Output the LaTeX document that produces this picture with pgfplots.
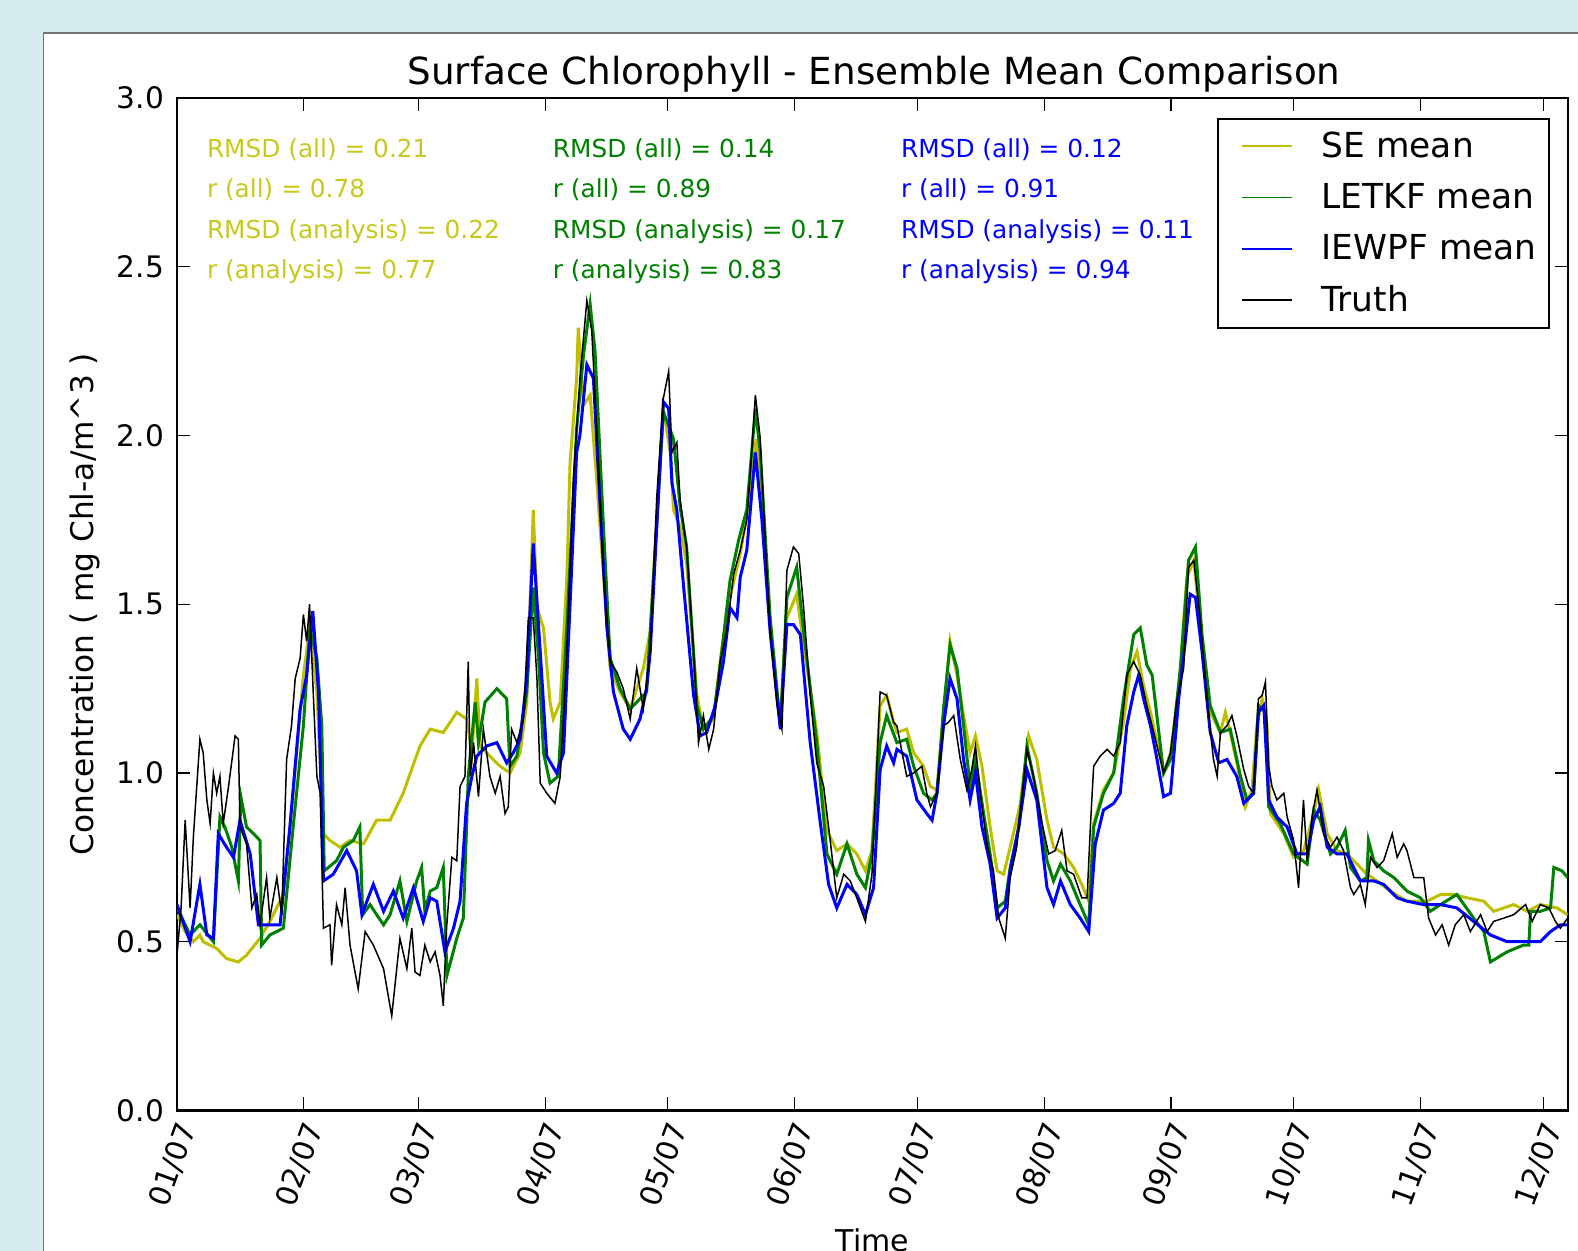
\documentclass[border=0pt]{standalone}
\usepackage{fontspec}
\setmainfont{DejaVu Sans}
\usepackage{pgfplots}
\pgfplotsset{compat=1.18}
\definecolor{bgblue}{RGB}{214,236,238}
\definecolor{seY}{rgb}{0.75,0.75,0}
\definecolor{seT}{RGB}{200,200,30}
\definecolor{lgreen}{rgb}{0,0.5,0}
\definecolor{iblue}{rgb}{0,0,1}
\begin{document}
\begin{tikzpicture}
\useasboundingbox (0,0) rectangle (789pt,625.5pt);
\clip (0,0) rectangle (789pt,625.5pt);
\fill[bgblue] (0,0) rectangle (789pt,625.5pt);
\filldraw[fill=white, draw=black!55, line width=0.8pt] (21.65pt,-5pt) rectangle (800pt,608.9pt);
\begin{axis}[
  at={(88.5pt,70.3pt)}, anchor=south west,
  scale only axis, width=695.35pt, height=506.1pt,
  xmin=0, xmax=340, ymin=0, ymax=3,
  xtick={0,31,59,90,120,151,181,212,243,273,304,334},
  xticklabels={01/07,02/07,03/07,04/07,05/07,06/07,07/07,08/07,09/07,10/07,11/07,12/07},
  ytick={0,0.5,1,1.5,2,2.5,3},
  yticklabels={0.0,0.5,1.0,1.5,2.0,2.5,3.0},
  tick align=inside,
  major tick length=6.5pt,
  every tick/.style={black, line width=0.6pt},
  axis line style={line width=1.2pt},
  tick label style={font=\fontsize{14.8}{17}\selectfont},
  xticklabel style={rotate=70, anchor=east, xshift=-1.5pt, yshift=-7.5pt},
  yticklabel style={xshift=-3pt},
  legend cell align=left,
  legend style={at={(1,1)}, anchor=north east, xshift=-8.9pt, yshift=-9.8pt,
    draw=black, line width=1.2pt, fill=white,
    font=\fontsize{17.2}{20}\selectfont, row sep=7.5pt,
    inner xsep=4pt, inner ysep=4.5pt},
  legend image code/.code={\path[draw=none, fill=none] (0pt,-1pt) rectangle (46pt,1pt); \draw[#1, line width=0.9pt] (8pt,0pt) -- (33pt,0pt);},
]
\addplot[seY, line width=1.5pt] coordinates {
(0,0.58) (2,0.53) (4,0.50) (5.6,0.52) (6.4,0.50) (9.7,0.48) (12.1,0.45) (15.0,0.44) (17.0,0.46) (20.3,0.51) (22.7,0.56) (26.0,0.64) (28.4,0.94) (30.9,1.29) (32.5,1.43) (34.2,1.24) (35.8,0.82) (37.4,0.80) (39.9,0.78) (42.3,0.80) (45.6,0.79) (48.8,0.86) (52.1,0.86) (55.3,0.94) (59.4,1.08) (61.9,1.13) (65.1,1.12) (68.4,1.18) (70.8,1.16) (72.1,1.06) (73.3,1.28) (74.1,1.08) (76.5,1.05) (79.0,1.02) (81.4,1.00) (83.9,1.06) (85.5,1.21) (87.1,1.78) (88.0,1.49) (89.6,1.43) (91.2,1.21) (92.0,1.16) (93.7,1.21) (95.3,1.58) (96.1,1.92) (97.7,2.17) (98.1,2.32) (99.4,2.09) (101.0,2.12) (102.6,1.87) (104.3,1.58) (105.9,1.31) (108.3,1.24) (110.8,1.19) (114.0,1.31) (115.7,1.42) (118.9,2.08) (120.6,1.95) (121.4,1.78) (123.0,1.73) (124.6,1.62) (127.1,1.23) (128.7,1.13) (131.2,1.16) (133.2,1.37) (135.2,1.52) (137.7,1.65) (140.1,1.82) (141.6,1.99) (143.4,1.73) (145.0,1.46) (147.5,1.14) (149.1,1.46) (151.5,1.53) (153.2,1.38) (156.4,1.12) (158.9,0.83) (161.3,0.77) (163.8,0.79) (166.2,0.76) (168.3,0.71) (169.9,0.77) (171.9,1.20) (173.5,1.23) (175.2,1.15) (176.0,1.12) (178.4,1.13) (180.1,1.06) (182.5,1.02) (184.2,0.96) (185.8,0.95) (187.4,1.17) (189.0,1.39) (190.7,1.29) (192.3,1.17) (193.9,1.06) (195.2,1.11) (196.8,1.02) (198.8,0.84) (200.5,0.71) (202.1,0.70) (203.7,0.78) (206.2,0.91) (208.2,1.11) (210.2,1.04) (212.7,0.86) (214.3,0.78) (216.8,0.76) (219.2,0.72) (221.2,0.67) (222.9,0.62) (224.1,0.85) (226.5,0.95) (229.0,1.00) (231.4,1.15) (233.1,1.31) (234.7,1.36) (236.3,1.26) (238.0,1.18) (241.2,1.00) (242.9,1.06) (244.9,1.24) (246.9,1.58) (248.6,1.63) (250.2,1.43) (252.6,1.18) (255.1,1.12) (256.3,1.18) (257.5,1.12) (259.1,1.03) (261.2,0.90) (262.8,0.95) (264.0,1.14) (265.3,1.22) (266.5,1.14) (267.3,0.88) (270.6,0.82) (273.0,0.75) (275.4,0.77) (277.5,0.86) (279.1,0.95) (281.2,0.82) (283.6,0.77) (286.0,0.76) (288.5,0.73) (290.9,0.70) (293.4,0.68) (296.6,0.65) (300.7,0.62) (305.6,0.62) (308.9,0.64) (312.1,0.64) (315.4,0.63) (319.5,0.62) (321.9,0.59) (326.8,0.61) (330.1,0.59) (333.3,0.61) (337.4,0.60) (340,0.58)
};
\addlegendentry{SE mean}
\addplot[lgreen, line width=1.5pt] coordinates {
(0,0.60) (3.2,0.52) (5.6,0.55) (8.9,0.50) (10.5,0.87) (11.7,0.84) (13.4,0.78) (15.0,0.68) (15.6,0.93) (17.0,0.84) (18.7,0.82) (20.3,0.80) (20.7,0.49) (22.7,0.52) (26.0,0.54) (28.4,0.84) (30.9,1.14) (32.5,1.43) (34.2,1.34) (35.4,1.14) (36.0,0.71) (39.0,0.74) (40.7,0.78) (43.1,0.80) (44.7,0.84) (45.4,0.58) (47.2,0.61) (48.8,0.58) (50.5,0.55) (52.1,0.58) (54.5,0.68) (56.2,0.56) (58.6,0.68) (59.8,0.72) (60.6,0.59) (61.9,0.65) (63.5,0.66) (65.1,0.72) (66.0,0.40) (68.4,0.51) (70.0,0.57) (70.8,0.84) (71.2,0.99) (72.9,1.21) (73.7,1.09) (75.3,1.21) (78.2,1.25) (80.6,1.22) (81.4,1.02) (83.1,1.05) (85.5,1.24) (87.1,1.55) (88.4,1.34) (89.6,1.06) (91.2,0.97) (93.2,0.99) (95.3,1.43) (97.7,2.02) (99.4,2.24) (101.0,2.39) (102.2,2.25) (104.3,1.72) (105.9,1.34) (108.3,1.25) (110.8,1.19) (113.2,1.22) (114.8,1.24) (115.7,1.42) (118.9,2.07) (121.4,1.99) (123.0,1.79) (124.6,1.67) (127.1,1.20) (128.7,1.13) (131.2,1.17) (133.2,1.36) (135.2,1.57) (137.3,1.69) (139.3,1.78) (141.4,2.08) (142.6,1.95) (145.0,1.46) (147.5,1.14) (149.1,1.52) (151.5,1.61) (153.2,1.42) (156.4,1.09) (158.9,0.76) (161.3,0.70) (163.8,0.79) (166.2,0.70) (168.3,0.66) (169.9,0.76) (171.9,1.09) (173.5,1.17) (176.0,1.09) (178.4,1.10) (180.1,1.02) (182.5,0.94) (184.6,0.92) (185.8,0.94) (187.4,1.19) (189.0,1.38) (190.7,1.31) (192.3,1.14) (193.9,0.96) (195.2,1.04) (197.2,0.88) (198.8,0.76) (200.5,0.60) (202.5,0.62) (203.7,0.72) (205.8,0.84) (207.8,1.08) (210.2,0.94) (212.7,0.74) (214.3,0.68) (216.0,0.73) (218.4,0.68) (220.8,0.61) (222.9,0.55) (224.1,0.84) (226.5,0.94) (229.0,1.00) (231.4,1.22) (233.9,1.41) (235.5,1.43) (237.1,1.32) (238.4,1.29) (241.2,1.00) (242.9,1.04) (245.3,1.31) (247.3,1.63) (249.0,1.67) (250.6,1.41) (252.6,1.20) (255.1,1.12) (257.5,1.13) (260.0,0.99) (261.6,0.92) (263.2,0.94) (264.4,1.20) (266.1,1.18) (266.9,0.90) (269.7,0.85) (273.0,0.76) (276.3,0.73) (277.9,0.89) (279.5,0.86) (282.0,0.76) (283.6,0.78) (285.6,0.83) (286.9,0.72) (289.3,0.68) (290.9,0.69) (291.3,0.80) (292.6,0.74) (295.0,0.71) (297.5,0.69) (300.7,0.65) (304.0,0.63) (306.4,0.59) (308.9,0.61) (312.9,0.64) (317.0,0.57) (319.5,0.53) (321.1,0.44) (325.2,0.47) (329.2,0.49) (330.5,0.49) (330.9,0.59) (333.3,0.59) (335.8,0.60) (336.6,0.72) (338.6,0.71) (340,0.69)
};
\addlegendentry{LETKF mean}
\addplot[iblue, line width=1.5pt] coordinates {
(0,0.61) (3.2,0.50) (5.6,0.67) (7.3,0.52) (8.9,0.51) (10.1,0.82) (12.1,0.78) (13.8,0.75) (15.4,0.86) (17.9,0.76) (19.9,0.55) (22.7,0.55) (25.2,0.55) (27.6,0.84) (30.1,1.19) (31.7,1.29) (33.2,1.48) (34.6,1.24) (35.8,0.68) (38.2,0.70) (41.5,0.77) (43.9,0.71) (45.2,0.58) (48.0,0.67) (50.5,0.59) (52.9,0.65) (55.3,0.57) (57.8,0.66) (60.2,0.56) (61.9,0.63) (63.5,0.62) (65.5,0.47) (67.6,0.54) (69.2,0.62) (70.8,0.91) (72.1,0.99) (73.3,1.05) (75.7,1.08) (78.2,1.09) (80.6,1.03) (82.2,1.06) (83.9,1.10) (85.5,1.28) (87.1,1.68) (88.8,1.36) (90.4,1.05) (92.8,1.00) (94.5,1.06) (96.1,1.50) (97.7,1.95) (98.5,2.00) (100.2,2.21) (101.8,2.17) (103.4,1.80) (105.1,1.43) (106.7,1.24) (109.1,1.13) (110.8,1.10) (113.2,1.16) (114.8,1.25) (115.7,1.36) (118.9,2.10) (120.2,2.08) (121.0,1.86) (122.2,1.78) (123.8,1.56) (126.3,1.23) (127.9,1.11) (129.5,1.12) (131.6,1.20) (133.6,1.33) (135.2,1.49) (136.9,1.46) (137.7,1.58) (139.3,1.66) (141.4,1.95) (143.0,1.75) (145.0,1.42) (147.5,1.13) (149.1,1.44) (150.7,1.44) (152.4,1.41) (154.8,1.09) (157.3,0.85) (159.3,0.67) (161.3,0.60) (163.8,0.67) (166.2,0.64) (168.3,0.58) (170.3,0.66) (171.9,1.01) (173.5,1.08) (175.2,1.03) (176.0,1.07) (178.4,1.05) (180.9,0.92) (183.3,0.88) (184.6,0.86) (185.8,0.94) (187.4,1.14) (189.0,1.28) (190.7,1.22) (192.3,1.04) (193.9,0.92) (195.2,1.00) (196.8,0.84) (198.8,0.73) (200.5,0.57) (202.5,0.60) (203.7,0.71) (205.8,0.84) (207.8,1.01) (210.2,0.92) (212.7,0.66) (214.3,0.61) (216.0,0.68) (218.4,0.61) (220.8,0.57) (222.9,0.53) (224.5,0.79) (226.5,0.89) (229.0,0.91) (230.6,0.94) (232.2,1.14) (233.9,1.24) (235.1,1.29) (236.3,1.22) (238.0,1.14) (239.6,1.04) (241.2,0.93) (242.9,0.94) (244.9,1.22) (246.5,1.39) (247.7,1.53) (249.0,1.52) (250.6,1.36) (252.6,1.12) (254.7,1.03) (256.7,1.04) (259.1,0.99) (260.8,0.91) (263.2,0.94) (264.4,1.18) (265.7,1.20) (266.9,0.92) (268.9,0.87) (271.4,0.84) (273.8,0.76) (276.3,0.76) (277.9,0.86) (279.5,0.90) (281.2,0.78) (283.6,0.76) (286.0,0.76) (289.3,0.68) (292.6,0.68) (295.0,0.67) (298.3,0.63) (300.7,0.62) (304.8,0.61) (308.9,0.61) (312.9,0.60) (317.0,0.56) (321.1,0.52) (325.2,0.50) (329.2,0.50) (333.3,0.50) (335.8,0.53) (338.2,0.55) (340,0.55)
};
\addlegendentry{IEWPF mean}
\addplot[black, line width=0.75pt] coordinates {
(0,0.46) (1.0,0.60) (2.0,0.86) (3.2,0.60) (4.0,0.81) (5.6,1.10) (6.4,1.06) (7.3,0.92) (8.1,0.85) (8.9,1.00) (9.7,0.94) (10.5,0.99) (11.3,0.85) (12.6,0.96) (14.2,1.11) (15.0,1.10) (15.4,0.84) (17.0,0.79) (18.3,0.60) (19.5,0.64) (20.3,0.55) (21.9,0.69) (22.7,0.57) (24.4,0.69) (25.6,0.58) (26.8,1.04) (28.0,1.14) (28.9,1.28) (30.1,1.34) (30.9,1.47) (31.7,1.39) (32.4,1.50) (33.3,1.24) (34.2,0.99) (35.0,0.94) (35.8,0.54) (37.4,0.55) (37.8,0.43) (39.0,0.61) (40.3,0.55) (41.1,0.66) (42.3,0.49) (44.3,0.36) (46.0,0.53) (48.0,0.49) (50.5,0.42) (52.5,0.28) (54.5,0.51) (56.2,0.42) (57.4,0.54) (58.2,0.41) (59.4,0.40) (60.6,0.49) (61.9,0.44) (63.1,0.47) (64.3,0.40) (65.1,0.31) (65.9,0.54) (67.2,0.75) (68.4,0.74) (69.2,0.96) (70.4,0.99) (71.2,1.33) (71.7,0.99) (72.5,1.09) (73.7,0.93) (74.9,1.13) (76.5,0.99) (77.8,0.94) (79.0,0.99) (80.2,0.88) (81.0,0.90) (81.8,1.13) (83.1,1.09) (84.7,1.16) (85.9,1.46) (87.1,1.46) (88.0,1.28) (88.8,0.97) (90.4,0.94) (92.4,0.91) (93.7,0.99) (95.3,1.36) (96.9,1.87) (98.5,2.17) (100.2,2.40) (101.4,2.31) (102.6,2.02) (104.3,1.58) (105.9,1.33) (107.5,1.30) (109.1,1.25) (110.8,1.16) (112.4,1.31) (114.0,1.19) (115.7,1.36) (117.3,1.82) (118.9,2.11) (120.2,2.19) (121.0,1.95) (122.2,1.98) (123.0,1.81) (124.6,1.67) (126.3,1.36) (127.5,1.09) (128.7,1.17) (130.0,1.07) (131.2,1.13) (132.8,1.33) (134.4,1.42) (136.1,1.59) (137.7,1.66) (139.3,1.75) (140.5,1.95) (141.4,2.12) (142.6,1.99) (143.8,1.69) (145.0,1.42) (146.7,1.20) (147.9,1.13) (149.1,1.60) (150.7,1.67) (152.0,1.65) (153.2,1.49) (154.8,1.23) (156.4,1.03) (158.1,0.96) (159.7,0.80) (161.3,0.63) (163.0,0.70) (164.6,0.68) (166.2,0.63) (168.3,0.56) (169.9,0.70) (171.9,1.24) (173.5,1.23) (175.2,1.15) (176.0,1.14) (177.6,1.04) (178.4,0.99) (180.1,1.00) (182.1,1.02) (183.3,0.94) (184.2,0.90) (185.8,0.94) (187.4,1.14) (188.6,1.15) (189.9,1.17) (191.5,1.04) (193.1,0.95) (194.3,1.01) (195.2,1.08) (196.4,0.94) (198.0,0.79) (199.6,0.71) (200.9,0.57) (202.5,0.51) (203.7,0.69) (205.3,0.78) (207.8,1.07) (209.4,0.99) (211.5,0.85) (213.1,0.76) (214.7,0.77) (216.3,0.83) (217.6,0.71) (219.2,0.70) (221.2,0.63) (222.5,0.63) (223.3,0.84) (224.1,1.02) (225.7,1.05) (227.4,1.07) (229.0,1.05) (230.6,1.09) (232.2,1.29) (233.9,1.33) (235.5,1.29) (237.1,1.20) (238.8,1.12) (241.2,1.00) (242.9,1.06) (244.5,1.22) (246.1,1.31) (247.3,1.61) (248.6,1.63) (250.2,1.45) (251.8,1.22) (253.4,1.04) (254.3,0.99) (255.1,1.12) (256.7,1.14) (257.9,1.17) (259.1,1.11) (260.8,1.01) (262.0,0.96) (263.2,0.94) (264.4,1.22) (265.3,1.23) (266.1,1.27) (266.9,1.02) (267.7,0.96) (268.9,0.92) (270.6,0.94) (271.4,0.87) (273.0,0.80) (274.2,0.66) (275.4,0.92) (276.3,0.74) (277.5,0.87) (278.7,0.95) (280.3,0.82) (282.0,0.78) (283.6,0.81) (285.2,0.77) (286.9,0.66) (287.7,0.64) (289.3,0.67) (290.5,0.61) (291.8,0.75) (293.4,0.72) (295.0,0.74) (297.1,0.82) (298.3,0.75) (299.9,0.79) (300.7,0.77) (302.4,0.69) (304.8,0.69) (306.0,0.57) (307.7,0.52) (309.3,0.55) (310.9,0.49) (312.5,0.55) (314.6,0.58) (316.2,0.53) (318.7,0.58) (320.3,0.53) (321.9,0.56) (324.4,0.57) (326.8,0.58) (329.7,0.61) (331.3,0.56) (333.3,0.61) (335.4,0.60) (337.0,0.56) (338.2,0.54) (340,0.57)
};
\addlegendentry{Truth}
\end{axis}
\node[font=\fontsize{18.65}{22}\selectfont] at (437pt,588.3pt) {Surface Chlorophyll - Ensemble Mean Comparison};
\node[rotate=90, font=\fontsize{15.6}{18}\selectfont] at (42.3pt,323.4pt) {Concentration ( mg Chl-a/m\textasciicircum 3 )};
\node[anchor=base, font=\fontsize{15}{18}\selectfont] at (436.3pt,-0.5pt) {Time};
\begin{scope}[every node/.style={anchor=west, inner sep=0pt, font=\fontsize{12.4}{15}\selectfont}]
\node[text=seT] at (103.3pt,550.5pt) {RMSD (all) = 0.21};
\node[text=seT] at (103.3pt,530.5pt) {r (all) = 0.78};
\node[text=seT] at (103.3pt,509.75pt) {RMSD (analysis) = 0.22};
\node[text=seT] at (103.3pt,489.65pt) {r (analysis) = 0.77};
\node[text=lgreen] at (276.25pt,550.5pt) {RMSD (all) = 0.14};
\node[text=lgreen] at (276.25pt,530.5pt) {r (all) = 0.89};
\node[text=lgreen] at (276.25pt,509.75pt) {RMSD (analysis) = 0.17};
\node[text=lgreen] at (276.25pt,489.65pt) {r (analysis) = 0.83};
\node[text=iblue] at (450.35pt,550.5pt) {RMSD (all) = 0.12};
\node[text=iblue] at (450.35pt,530.5pt) {r (all) = 0.91};
\node[text=iblue] at (450.35pt,509.75pt) {RMSD (analysis) = 0.11};
\node[text=iblue] at (450.35pt,489.65pt) {r (analysis) = 0.94};
\end{scope}
\end{tikzpicture}
\end{document}
